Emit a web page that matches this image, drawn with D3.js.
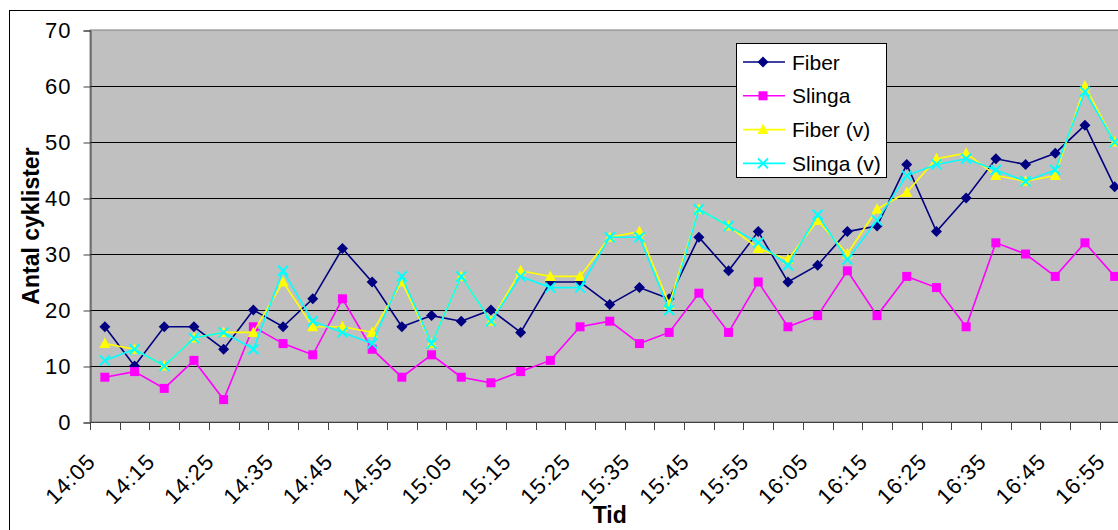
<!DOCTYPE html>
<html>
<head>
<meta charset="utf-8">
<script src="https://cdn.jsdelivr.net/npm/d3@7"></script>
<style>
  body { margin: 0; background: #fff; }
  text { font-family: "Liberation Sans", Arial, sans-serif; }
</style>
</head>
<body>
<div id="chart"></div>
<script>
// time slots, every 5 minutes
var times = ["14:05","14:10","14:15","14:20","14:25","14:30","14:35","14:40","14:45","14:50",
             "14:55","15:00","15:05","15:10","15:15","15:20","15:25","15:30","15:35","15:40",
             "15:45","15:50","15:55","16:00","16:05","16:10","16:15","16:20","16:25","16:30",
             "16:35","16:40","16:45","16:50","16:55"];

var fiber   = [17,10,17,17,13,20,17,22,31,25,17,19,18,20,16,25,25,21,24,22,33,27,34,25,28,34,35,46,34,40,47,46,48,53,42];
var slinga  = [8,9,6,11,4,17,14,12,22,13,8,12,8,7,9,11,17,18,14,16,23,16,25,17,19,27,19,26,24,17,32,30,26,32,26];
var fiberV  = [14,13,10,15,16,16,25,17,17,16,25,14,26,18,27,26,26,33,34,21,38,35,31,29,36,30,38,41,47,48,44,43,44,60,50];
var slingaV = [11,13,10,15,16,13,27,18,16,14,26,14,26,18,26,24,24,33,33,20,38,35,32,28,37,29,36,44,46,47,45,43,45,59,50];

var seriesNames = ["Fiber", "Slinga", "Fiber (v)", "Slinga (v)"];
var yTicks = [0, 10, 20, 30, 40, 50, 60, 70];

let width = 1118, height = 530;
let plotLeft = 90, plotTop = 30, plotBottom = 422;
let step = 29.7;

var svg = d3.select("#chart").append("svg")
    .attr("width", width)
    .attr("height", height);

// outer chart border (runs off the right edge like the original)
svg.append("rect")
    .attr("x", 9.5).attr("y", 10.5)
    .attr("width", 1200).attr("height", 600)
    .attr("fill", "#fff")
    .attr("stroke", "#000");

var x = d3.scaleBand()
    .domain(times)
    .range([plotLeft, plotLeft + step * times.length]);

var y = d3.scaleLinear()
    .domain([0, 70])
    .range([plotBottom, plotTop]);

// plot area
svg.append("rect")
    .attr("x", plotLeft).attr("y", plotTop)
    .attr("width", step * times.length)
    .attr("height", plotBottom - plotTop)
    .attr("fill", "#c0c0c0")
    .attr("stroke", "#808080");

// gridlines
svg.selectAll(".grid")
    .data(yTicks.filter(function (d) { return d > 0 && d < 70; }))
    .enter()
    .append("line")
    .attr("x1", plotLeft).attr("x2", plotLeft + step * times.length)
    .attr("y1", function (d) { return Math.round(y(d)) + 0.5; })
    .attr("y2", function (d) { return Math.round(y(d)) + 0.5; })
    .attr("stroke", "#000");

// y axis
var yAxis = svg.append("g")
    .attr("transform", "translate(" + (plotLeft + 0.5) + ",0.5)")
    .call(d3.axisLeft(y).tickValues(yTicks).tickSize(7).tickPadding(12));
yAxis.select(".domain").attr("stroke", "#404040");
yAxis.selectAll(".tick line").attr("stroke", "#404040");
yAxis.selectAll("text")
    .attr("fill", "#000")
    .style("font-size", "22px")
    .style("letter-spacing", "1px")
    .style("font-family", "'Liberation Sans', Arial, sans-serif");

// x axis line + ticks between categories
svg.append("line")
    .attr("x1", plotLeft).attr("x2", plotLeft + step * times.length)
    .attr("y1", plotBottom + 0.5).attr("y2", plotBottom + 0.5)
    .attr("stroke", "#404040");

svg.selectAll(".xtick")
    .data(times.concat(["end"]))
    .enter()
    .append("line")
    .attr("x1", function (d, i) { return Math.round(plotLeft + i * x.step()) + 0.5; })
    .attr("x2", function (d, i) { return Math.round(plotLeft + i * x.step()) + 0.5; })
    .attr("y1", plotBottom).attr("y2", plotBottom + 8)
    .attr("stroke", "#404040");

// x labels, every second slot, rotated
svg.selectAll(".xlabel")
    .data(times.filter(function (d, i) { return i % 2 == 0; }))
    .enter()
    .append("text")
    .attr("transform", function (d) {
        return "translate(" + (x(d) + x.bandwidth() / 2 - 8) + "," + (plotBottom + 41) + ") rotate(-45)";
    })
    .attr("text-anchor", "end")
    .style("font-size", "22px")
    .style("letter-spacing", "1px")
    .text(function (d) { return d; });

// axis titles
svg.append("text")
    .attr("transform", "translate(39," + ((plotTop + plotBottom) / 2) + ") rotate(-90)")
    .attr("text-anchor", "middle")
    .style("font-size", "23px")
    .style("font-weight", "bold")
    .text("Antal cyklister");

svg.append("text")
    .attr("x", plotLeft + step * times.length / 2)
    .attr("y", 523)
    .attr("text-anchor", "middle")
    .style("font-size", "23px")
    .style("font-weight", "bold")
    .text("Tid");

// series
var colors = ["#000080", "#ff00ff", "#ffff00", "#00ffff"];
var markers = ["diamond", "square", "triangle", "cross"];
var allData = [fiber, slinga, fiberV, slingaV];

function drawMarker(g, kind, color) {
    if (kind == "diamond") {
        g.append("path").attr("d", "M0,-5.5L5.5,0L0,5.5L-5.5,0Z").attr("fill", color);
    } else if (kind == "square") {
        g.append("rect").attr("x", -4.5).attr("y", -4.5).attr("width", 9).attr("height", 9).attr("fill", color);
    } else if (kind == "triangle") {
        g.append("path").attr("d", "M0,-6L5.5,4.5L-5.5,4.5Z").attr("fill", color);
    } else {
        g.append("path").attr("d", "M-5,-5L5,5M-5,5L5,-5")
            .attr("stroke", color).attr("stroke-width", 2).attr("fill", "none");
    }
}

var line = d3.line()
    .x(function (d, i) { return x(times[i]) + x.bandwidth() / 2; })
    .y(function (d) { return y(d); });

allData.forEach(function (vals, s) {
    svg.append("path")
        .datum(vals)
        .attr("d", line)
        .attr("fill", "none")
        .attr("stroke", colors[s])
        .attr("stroke-width", 1.6);

    vals.forEach(function (v, i) {
        var g = svg.append("g")
            .attr("transform", "translate(" + (x(times[i]) + x.bandwidth() / 2) + "," + y(v) + ")");
        drawMarker(g, markers[s], colors[s]);
    });
});

// legend
var legend = svg.append("g");
legend.append("rect")
    .attr("x", 736.5).attr("y", 43.5)
    .attr("width", 150).attr("height", 134)
    .attr("fill", "#fff")
    .attr("stroke", "#000");

seriesNames.forEach(function (name, s) {
    let ly = 62 + s * 33.8;
    legend.append("line")
        .attr("x1", 743).attr("x2", 785)
        .attr("y1", ly).attr("y2", ly)
        .attr("stroke", colors[s]).attr("stroke-width", 1.6);
    var g = legend.append("g").attr("transform", "translate(763," + ly + ")");
    drawMarker(g, markers[s], colors[s]);
    legend.append("text")
        .attr("x", 792).attr("y", ly)
        .attr("dy", "0.36em")
        .style("font-size", "21px")
        .text(name);
});
</script>
</body>
</html>
